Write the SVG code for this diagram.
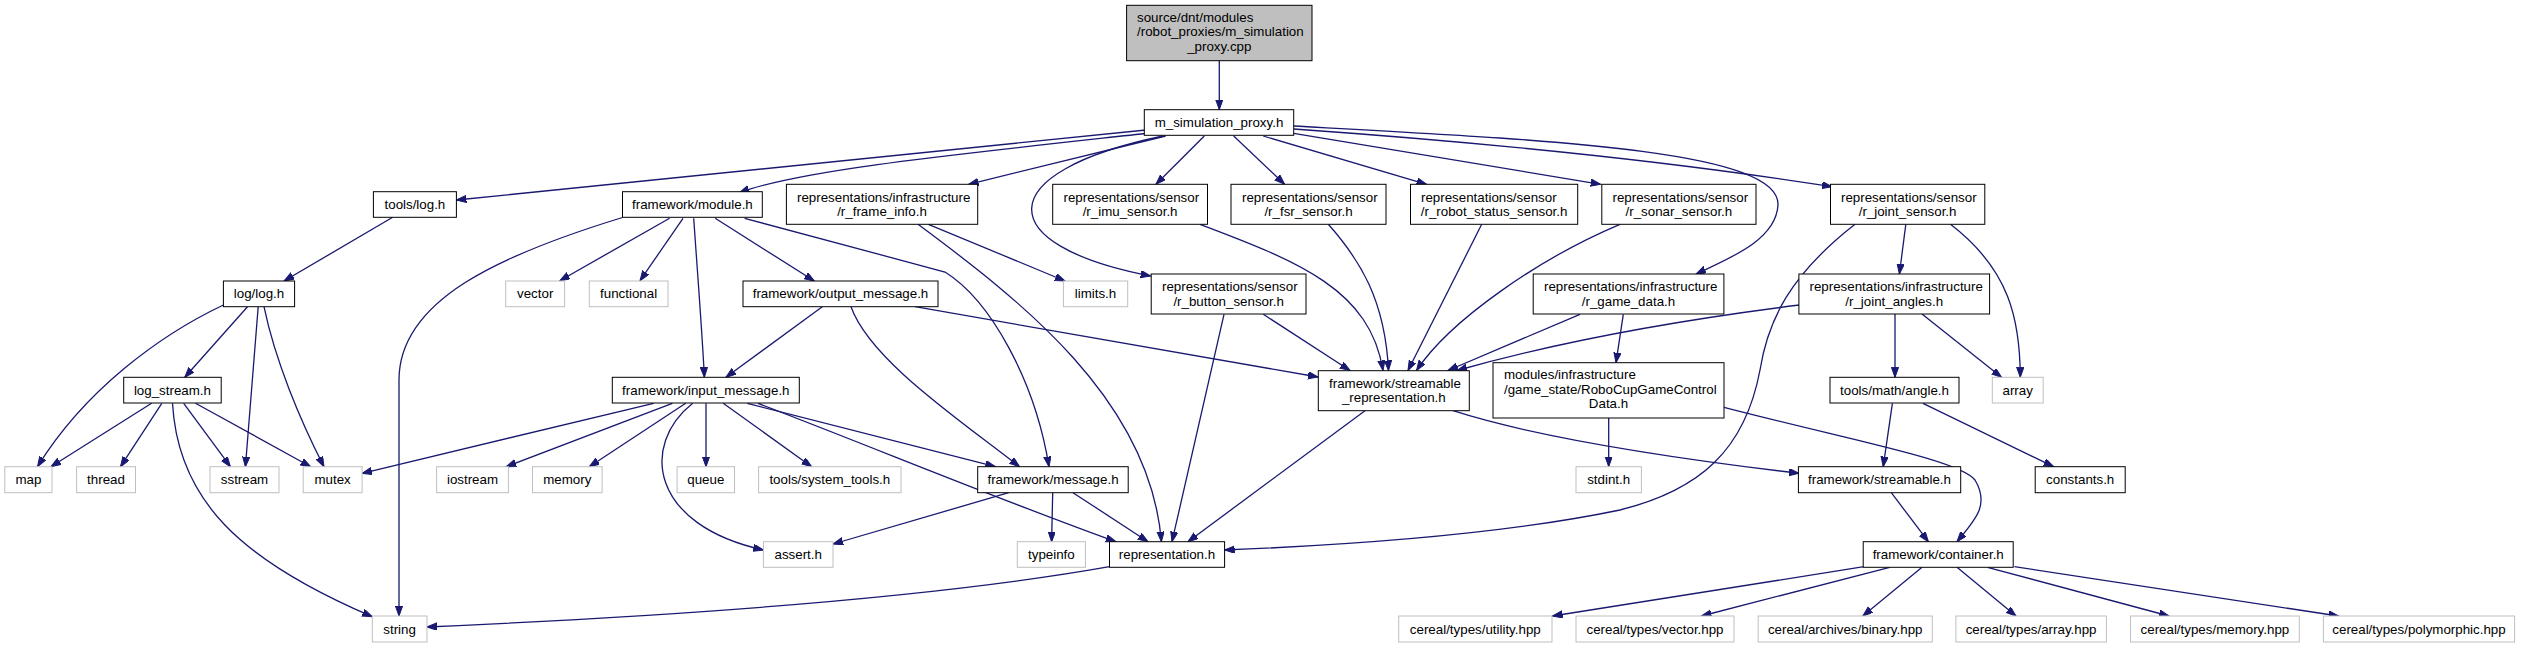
<svg xmlns="http://www.w3.org/2000/svg" width="2523" height="648" viewBox="0 0 2523 648">
<style>
.n rect{fill:#fff;stroke:#000;stroke-width:1}
.g rect{fill:#fff;stroke:#bfbfbf;stroke-width:1}
.r rect{fill:#bfbfbf;stroke:#000;stroke-width:1}
text{font-family:"Liberation Sans",Arial,sans-serif;font-size:13.33px;fill:#000}
.c{text-anchor:middle}
.s{text-anchor:start}
#edges path{fill:none;stroke:#191970;stroke-width:1.3;marker-end:url(#ah)}
</style>
<defs>
<marker id="ah" markerUnits="userSpaceOnUse" markerWidth="11" markerHeight="8" refX="10" refY="3.6" orient="auto">
<path d="M0,0 L10,3.6 L0,7.2 z" fill="#191970" stroke="#191970" stroke-width="1"/>
</marker>
</defs>
<rect width="2523" height="648" fill="#fff"/>
<g id="edges">
<path d="M1219.3,60.7 L1219.3,109.7"/>
<path d="M1146,130 L456.4,200"/>
<path d="M1150,133 C950,155 800,170 739.3,192.7"/>
<path d="M1165.7,136 L968.6,184.3"/>
<path d="M1163,136 C990,172 990,245 1150.7,276"/>
<path d="M1204.3,136 L1156,184.3"/>
<path d="M1233.7,136 L1284.6,184.3"/>
<path d="M1263.2,136 L1426.6,184.3"/>
<path d="M1293.7,133.3 L1600.7,184.3"/>
<path d="M1293.7,129 C1450,140 1650,158 1832,186.7"/>
<path d="M1293.7,126 C1550,140 1780,150 1778,205 C1776,240 1730,258 1696,274"/>
<path d="M392.7,217.3 L284,281"/>
<path d="M223.4,305 C160,335 85,390 37.5,466.7"/>
<path d="M247.5,306.7 L184.8,377.3"/>
<path d="M258.2,306.7 L245.4,466.7"/>
<path d="M264,306.7 C275,360 300,420 324,466.7"/>
<path d="M151.6,403.3 L50.9,466.7"/>
<path d="M161.8,403.3 L120.5,466.7"/>
<path d="M172.5,403.3 C178,500 240,560 372.3,616.7"/>
<path d="M183.7,403.3 L230.4,466.7"/>
<path d="M195.5,403.3 L310.7,466.7"/>
<path d="M622.5,217.5 C500,255 399,300 399,380 L399,616"/>
<path d="M669.6,218.3 L559.8,280.7"/>
<path d="M683,218.3 L640,280.7"/>
<path d="M693.7,218.3 C698,280 702,330 704.4,377.3"/>
<path d="M715.2,218.3 L814.3,281"/>
<path d="M744.6,218.3 L945,272 C990,300 1035,380 1049,466.7"/>
<path d="M928.4,224.3 L1065,281"/>
<path d="M918,224.3 C1020,300 1150,400 1161.4,541.7"/>
<path d="M822.3,306.7 L725.9,377.3"/>
<path d="M851,306.7 C870,360 960,420 1019.5,466.7"/>
<path d="M915,306.7 L1318,377"/>
<path d="M653.6,403.3 L362.1,473.3"/>
<path d="M672.3,403.3 L506.2,466.7"/>
<path d="M685.7,403.3 L589.3,466.7"/>
<path d="M706,403.3 L706,466.7"/>
<path d="M723.2,403.3 L811.6,466.7"/>
<path d="M692.7,403.3 C640,445 650,525 763.4,550"/>
<path d="M747.3,403.3 L995.4,466.7"/>
<path d="M758,403.3 C880,450 1000,500 1115.9,541.7"/>
<path d="M1008.7,492.7 L833,544"/>
<path d="M1052.7,492.7 L1051.6,541.7"/>
<path d="M1073,492.7 L1148,541.7"/>
<path d="M1109.5,566.7 C950,595 700,615 427,627"/>
<path d="M1365,410.7 L1188,541.7"/>
<path d="M1453,410.7 Q1560,445 1799,473.3"/>
<path d="M1200,224.3 C1300,262 1370,290 1383,370.5"/>
<path d="M1328.3,224.3 C1360,260 1385,300 1388.5,370.5"/>
<path d="M1481.7,224.3 L1408,370.5"/>
<path d="M1620,224.3 C1540,258 1450,320 1416.5,370.5"/>
<path d="M1263.3,314.3 L1350,370.5"/>
<path d="M1224,314.3 L1172,541.7"/>
<path d="M1580,314.3 L1448,370.5"/>
<path d="M1623.3,314.3 L1616,362.7"/>
<path d="M1799.4,305 Q1600,330 1457,370.5"/>
<path d="M1905.8,224.3 L1899.4,274"/>
<path d="M1950.5,224.3 C2010,270 2020,320 2020.3,377.3"/>
<path d="M1855,224.3 C1790,275 1768,320 1760,370 C1745,450 1700,490 1620,510 C1500,535 1350,545 1224.6,550"/>
<path d="M1895,314 L1895,377.3"/>
<path d="M1922,314 L2001.5,377.3"/>
<path d="M1892.4,403.3 L1883.2,466.7"/>
<path d="M1923,403.3 L2053.6,466.7"/>
<path d="M1891.3,492.7 L1928.4,541.7"/>
<path d="M1608.7,418 L1608.7,466.7"/>
<path d="M1724,407.3 C1850,440 1960,460 1975,480 C1990,505 1975,520 1957,541.7"/>
<path d="M1863.9,566.7 L1552.5,616"/>
<path d="M1889.7,567.3 L1701.5,616"/>
<path d="M1922,567.3 L1862.8,616"/>
<path d="M1957,567.3 L2016,616"/>
<path d="M1987.5,567.3 L2169,616"/>
<path d="M2014.4,566.7 L2338.6,616"/>
</g>
<g id="node-root" class="r"><rect x="1126.6" y="5.3" width="185.4" height="55.4"/><text class="s" x="1137" y="21.5">source/dnt/modules</text><text class="s" x="1137" y="36.2">/robot_proxies/m_simulation</text><text class="c" x="1219.3" y="50.9">_proxy.cpp</text></g>
<g id="node-msim" class="n"><rect x="1144.3" y="109.7" width="149.4" height="25.6"/><text class="c" x="1219" y="127">m_simulation_proxy.h</text></g>
<g id="node-toolslog" class="n"><rect x="373.4" y="191.7" width="83" height="25.6"/><text class="c" x="414.9" y="209">tools/log.h</text></g>
<g id="node-module" class="n"><rect x="622.5" y="191.7" width="139.8" height="25.6"/><text class="c" x="692.4" y="209">framework/module.h</text></g>
<g id="node-frameinfo" class="n"><rect x="786.4" y="184.3" width="191.3" height="40"/><text class="s" x="797" y="201.5">representations/infrastructure</text><text class="c" x="882" y="216">/r_frame_info.h</text></g>
<g id="node-imu" class="n"><rect x="1052.7" y="184.3" width="154.8" height="40"/><text class="s" x="1063.5" y="201.5">representations/sensor</text><text class="c" x="1130.1" y="216">/r_imu_sensor.h</text></g>
<g id="node-fsr" class="n"><rect x="1231" y="184.3" width="155" height="40"/><text class="s" x="1242" y="201.5">representations/sensor</text><text class="c" x="1308.5" y="216">/r_fsr_sensor.h</text></g>
<g id="node-robotstatus" class="n"><rect x="1410.5" y="184.3" width="167.2" height="40"/><text class="s" x="1421" y="201.5">representations/sensor</text><text class="c" x="1494.1" y="216">/r_robot_status_sensor.h</text></g>
<g id="node-sonar" class="n"><rect x="1601.8" y="184.3" width="154.2" height="40"/><text class="s" x="1612.5" y="201.5">representations/sensor</text><text class="c" x="1678.9" y="216">/r_sonar_sensor.h</text></g>
<g id="node-jointsensor" class="n"><rect x="1830.5" y="184.3" width="154.3" height="40"/><text class="s" x="1841" y="201.5">representations/sensor</text><text class="c" x="1907.6" y="216">/r_joint_sensor.h</text></g>
<g id="node-loglog" class="n"><rect x="223.4" y="281" width="71.2" height="25.7"/><text class="c" x="259" y="298.4">log/log.h</text></g>
<g id="node-vector" class="g"><rect x="505.7" y="281" width="58.9" height="25.7"/><text class="c" x="535.2" y="298.4">vector</text></g>
<g id="node-functional" class="g"><rect x="589.3" y="281" width="78.7" height="25.7"/><text class="c" x="628.6" y="298.4">functional</text></g>
<g id="node-outputmsg" class="n"><rect x="743" y="281" width="195" height="25.7"/><text class="c" x="840.5" y="298.4">framework/output_message.h</text></g>
<g id="node-limits" class="g"><rect x="1063.4" y="281" width="64.3" height="25.7"/><text class="c" x="1095.5" y="298.4">limits.h</text></g>
<g id="node-button" class="n"><rect x="1151.2" y="274" width="154.8" height="40"/><text class="s" x="1162" y="291.2">representations/sensor</text><text class="c" x="1228.6" y="305.7">/r_button_sensor.h</text></g>
<g id="node-gamedata" class="n"><rect x="1533.2" y="274" width="190.7" height="40"/><text class="s" x="1544" y="291.2">representations/infrastructure</text><text class="c" x="1628.5" y="305.7">/r_game_data.h</text></g>
<g id="node-jointangles" class="n"><rect x="1798.9" y="274" width="190.7" height="40"/><text class="s" x="1809.5" y="291.2">representations/infrastructure</text><text class="c" x="1894.2" y="305.7">/r_joint_angles.h</text></g>
<g id="node-logstream" class="n"><rect x="123.7" y="377.3" width="97.5" height="25.7"/><text class="c" x="172.4" y="394.7">log_stream.h</text></g>
<g id="node-inputmsg" class="n"><rect x="612.3" y="377.3" width="187" height="25.7"/><text class="c" x="705.8" y="394.7">framework/input_message.h</text></g>
<g id="node-streamrep" class="n"><rect x="1318.3" y="370.7" width="151" height="40"/><text class="s" x="1329" y="387.9">framework/streamable</text><text class="c" x="1393.8" y="402.4">_representation.h</text></g>
<g id="node-robocup" class="n"><rect x="1493" y="362.7" width="231" height="55.3"/><text class="s" x="1504" y="379">modules/infrastructure</text><text class="s" x="1504" y="393.7">/game_state/RoboCupGameControl</text><text class="c" x="1608.5" y="408.4">Data.h</text></g>
<g id="node-angle" class="n"><rect x="1830" y="377.3" width="129" height="25.7"/><text class="c" x="1894.5" y="394.7">tools/math/angle.h</text></g>
<g id="node-array" class="g"><rect x="1992.3" y="377.3" width="50.9" height="25.7"/><text class="c" x="2017.7" y="394.7">array</text></g>
<g id="node-map" class="g"><rect x="4.8" y="466.7" width="47.2" height="26"/><text class="c" x="28.4" y="484.2">map</text></g>
<g id="node-thread" class="g"><rect x="76.6" y="466.7" width="58.9" height="26"/><text class="c" x="106" y="484.2">thread</text></g>
<g id="node-sstream" class="g"><rect x="210" y="466.7" width="69" height="26"/><text class="c" x="244.5" y="484.2">sstream</text></g>
<g id="node-mutex" class="g"><rect x="303.2" y="466.7" width="58.9" height="26"/><text class="c" x="332.6" y="484.2">mutex</text></g>
<g id="node-iostream" class="g"><rect x="436.6" y="466.7" width="71.8" height="26"/><text class="c" x="472.5" y="484.2">iostream</text></g>
<g id="node-memory" class="g"><rect x="532.5" y="466.7" width="69.6" height="26"/><text class="c" x="567.3" y="484.2">memory</text></g>
<g id="node-queue" class="g"><rect x="677.1" y="466.7" width="57.4" height="26"/><text class="c" x="705.8" y="484.2">queue</text></g>
<g id="node-systools" class="g"><rect x="758.6" y="466.7" width="142.4" height="26"/><text class="c" x="829.8" y="484.2">tools/system_tools.h</text></g>
<g id="node-message" class="n"><rect x="977.7" y="466.7" width="150.5" height="26"/><text class="c" x="1053" y="484.2">framework/message.h</text></g>
<g id="node-stdint" class="g"><rect x="1576" y="466.7" width="65.4" height="26"/><text class="c" x="1608.7" y="484.2">stdint.h</text></g>
<g id="node-streamable" class="n"><rect x="1798.4" y="466.7" width="162.3" height="26"/><text class="c" x="1879.5" y="484.2">framework/streamable.h</text></g>
<g id="node-constants" class="n"><rect x="2035.2" y="466.7" width="90" height="26"/><text class="c" x="2080.2" y="484.2">constants.h</text></g>
<g id="node-assert" class="g"><rect x="763.4" y="541.7" width="69.6" height="25.6"/><text class="c" x="798.2" y="559">assert.h</text></g>
<g id="node-typeinfo" class="g"><rect x="1017.3" y="541.7" width="68.1" height="25.6"/><text class="c" x="1051.4" y="559">typeinfo</text></g>
<g id="node-representation" class="n"><rect x="1109.5" y="541.7" width="115.1" height="25.6"/><text class="c" x="1167" y="559">representation.h</text></g>
<g id="node-container" class="n"><rect x="1863.2" y="541.7" width="150" height="25.6"/><text class="c" x="1938.2" y="559">framework/container.h</text></g>
<g id="node-string" class="g"><rect x="372.3" y="616" width="54.7" height="26"/><text class="c" x="399.6" y="633.5">string</text></g>
<g id="node-utility" class="g"><rect x="1398.7" y="616" width="153.3" height="26"/><text class="c" x="1475.3" y="633.5">cereal/types/utility.hpp</text></g>
<g id="node-vectorhpp" class="g"><rect x="1576" y="616" width="158" height="26"/><text class="c" x="1655" y="633.5">cereal/types/vector.hpp</text></g>
<g id="node-binary" class="g"><rect x="1758.2" y="616" width="174.1" height="26"/><text class="c" x="1845.2" y="633.5">cereal/archives/binary.hpp</text></g>
<g id="node-arrayhpp" class="g"><rect x="1955.9" y="616" width="150.5" height="26"/><text class="c" x="2031.1" y="633.5">cereal/types/array.hpp</text></g>
<g id="node-memoryhpp" class="g"><rect x="2130.5" y="616" width="168.8" height="26"/><text class="c" x="2214.9" y="633.5">cereal/types/memory.hpp</text></g>
<g id="node-polymorphic" class="g"><rect x="2323.4" y="616" width="191.2" height="26"/><text class="c" x="2419" y="633.5">cereal/types/polymorphic.hpp</text></g>
</svg>
